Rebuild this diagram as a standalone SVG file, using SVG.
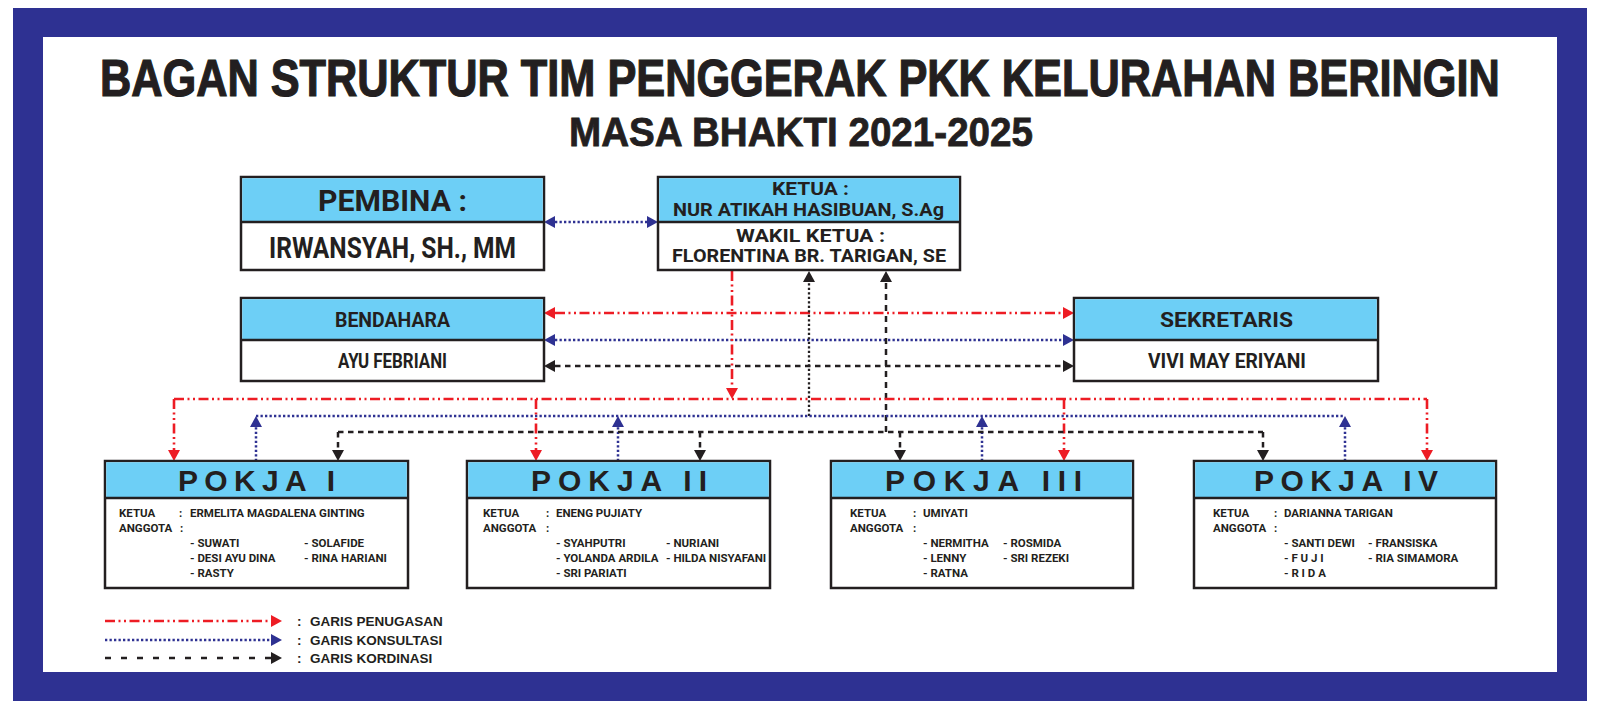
<svg xmlns="http://www.w3.org/2000/svg" width="1600" height="711" viewBox="0 0 1600 711">
<style>
.box{fill:#ffffff;stroke:#231f20;stroke-width:2.5}
.hdr{fill:#6dcff6}
.div{stroke:#231f20;stroke-width:2.5}
.t{font-family:Roboto,"Liberation Sans",sans-serif;font-weight:700;fill:#231f20}
.big{font-family:"Liberation Sans",Arial,sans-serif;font-weight:700;fill:#231f20}
.b{font-size:11.5px}
.red{fill:none;stroke:#ed1c24;stroke-width:2.6;stroke-dasharray:10 3.5 2 3.5 2 3.5}
.blue{fill:none;stroke:#2e3192;stroke-width:2.5;stroke-dasharray:2.3 2.2}
.blk{fill:none;stroke:#231f20;stroke-width:2.5;stroke-dasharray:5.5 4.5}
.blkdot{fill:none;stroke:#231f20;stroke-width:2.3;stroke-dasharray:2.2 2.3}
.blkv{fill:none;stroke:#231f20;stroke-width:2.5;stroke-dasharray:6 5}
.lgblk{fill:none;stroke:#231f20;stroke-width:2.5;stroke-dasharray:6 10}
</style>
<defs>
<marker id="aR" viewBox="0 0 11 12" refX="0" refY="6" markerWidth="11" markerHeight="12" markerUnits="userSpaceOnUse" orient="auto-start-reverse"><path d="M0,0 L11,6 L0,12 Z" fill="#ed1c24"/></marker>
<marker id="aB" viewBox="0 0 11 12" refX="0" refY="6" markerWidth="11" markerHeight="12" markerUnits="userSpaceOnUse" orient="auto-start-reverse"><path d="M0,0 L11,6 L0,12 Z" fill="#2e3192"/></marker>
<marker id="aK" viewBox="0 0 11 12" refX="0" refY="6" markerWidth="11" markerHeight="12" markerUnits="userSpaceOnUse" orient="auto-start-reverse"><path d="M0,0 L11,6 L0,12 Z" fill="#231f20"/></marker>
</defs>
<rect x="0" y="0" width="1600" height="711" fill="#ffffff"/>
<rect x="13" y="8" width="1574" height="693" fill="#2e3192"/>
<rect x="43" y="37" width="1514" height="635" fill="#ffffff"/>

<g id="title">
<text class="big" transform="translate(100,96) scale(0.81,1)" x="0" y="0" font-size="51" textLength="1728" lengthAdjust="spacingAndGlyphs" stroke="#231f20" stroke-width="1.2">BAGAN STRUKTUR TIM PENGGERAK PKK KELURAHAN BERINGIN</text>
<text class="big" x="569" y="146" font-size="41" textLength="464" lengthAdjust="spacingAndGlyphs" stroke="#231f20" stroke-width="0.8">MASA BHAKTI 2021-2025</text>
</g>

<g id="connectors">
<path class="blue" d="M555,222 H647" marker-start="url(#aB)" marker-end="url(#aB)"/>
<path class="red" d="M555,313 H1063" marker-start="url(#aR)" marker-end="url(#aR)"/>
<path class="blue" d="M555,340 H1063" marker-start="url(#aB)" marker-end="url(#aB)"/>
<path class="blk" d="M555,366 H1063" marker-start="url(#aK)" marker-end="url(#aK)"/>
<path class="red" d="M732,271 V388" marker-end="url(#aR)"/>
<path class="blkdot" d="M809,416 V282" marker-end="url(#aK)"/>
<path class="blkv" d="M886,432 V282" marker-end="url(#aK)"/>
<path class="red" d="M174,399 H1427"/>
<path class="red" d="M174,399 V450" marker-end="url(#aR)"/>
<path class="red" d="M536,399 V450" marker-end="url(#aR)"/>
<path class="red" d="M1064,399 V450" marker-end="url(#aR)"/>
<path class="red" d="M1427,399 V450" marker-end="url(#aR)"/>
<path class="blue" d="M256,416 H1345"/>
<path class="blue" d="M256,461 V427" marker-end="url(#aB)"/>
<path class="blue" d="M618,461 V427" marker-end="url(#aB)"/>
<path class="blue" d="M982,461 V427" marker-end="url(#aB)"/>
<path class="blue" d="M1345,461 V427" marker-end="url(#aB)"/>
<path class="blk" d="M338,432 H1263"/>
<path class="blk" d="M338,432 V450" marker-end="url(#aK)"/>
<path class="blk" d="M700,432 V450" marker-end="url(#aK)"/>
<path class="blk" d="M900,432 V450" marker-end="url(#aK)"/>
<path class="blk" d="M1263,432 V450" marker-end="url(#aK)"/>
</g>

<g id="pembina">
<rect class="box" x="241" y="177" width="303" height="93"/>
<rect class="hdr" x="242.25" y="178.25" width="300.5" height="43.75"/>
<line class="div" x1="241" y1="222" x2="544" y2="222"/>
<text class="t" x="318" y="211" font-size="29" textLength="149" lengthAdjust="spacingAndGlyphs">PEMBINA :</text>
<text class="t" x="269" y="258" font-size="29" textLength="247" lengthAdjust="spacingAndGlyphs">IRWANSYAH, SH., MM</text>
</g>

<g id="ketua">
<rect class="box" x="658" y="177" width="302" height="93"/>
<rect class="hdr" x="659.25" y="178.25" width="299.5" height="43.75"/>
<line class="div" x1="658" y1="222" x2="960" y2="222"/>
<text class="t" x="772" y="195" font-size="19" textLength="77" lengthAdjust="spacingAndGlyphs">KETUA :</text>
<text class="t" x="673" y="216" font-size="19" textLength="271" lengthAdjust="spacingAndGlyphs">NUR ATIKAH HASIBUAN, S.Ag</text>
<text class="t" x="736" y="242" font-size="19" textLength="149" lengthAdjust="spacingAndGlyphs">WAKIL KETUA :</text>
<text class="t" x="672" y="262" font-size="19" textLength="274" lengthAdjust="spacingAndGlyphs">FLORENTINA BR. TARIGAN, SE</text>
</g>

<g id="bendahara">
<rect class="box" x="241" y="298" width="303" height="83"/>
<rect class="hdr" x="242.25" y="299.25" width="300.5" height="40.75"/>
<line class="div" x1="241" y1="340" x2="544" y2="340"/>
<text class="t" x="335" y="327" font-size="20.5" textLength="115" lengthAdjust="spacingAndGlyphs">BENDAHARA</text>
<text class="t" x="338" y="368" font-size="20.5" textLength="109" lengthAdjust="spacingAndGlyphs">AYU FEBRIANI</text>
</g>

<g id="sekretaris">
<rect class="box" x="1074" y="298" width="304" height="83"/>
<rect class="hdr" x="1075.25" y="299.25" width="301.5" height="40.75"/>
<line class="div" x1="1074" y1="340" x2="1378" y2="340"/>
<text class="t" x="1160" y="327" font-size="20.5" textLength="133" lengthAdjust="spacingAndGlyphs">SEKRETARIS</text>
<text class="t" x="1148" y="368" font-size="20.5" textLength="158" lengthAdjust="spacingAndGlyphs">VIVI MAY ERIYANI</text>
</g>

<g id="pokja1">
<rect class="box" x="105" y="461" width="303" height="127"/>
<rect class="hdr" x="106.25" y="462.25" width="300.5" height="35.75"/>
<line class="div" x1="105" y1="498" x2="408" y2="498"/>
<text class="big" x="178" y="491" font-size="30" textLength="157" lengthAdjust="spacing">POKJA I</text>
<text class="t b" x="119" y="517">KETUA</text><text class="t b" x="179" y="517">:</text><text class="t b" x="190" y="517">ERMELITA MAGDALENA GINTING</text>
<text class="t b" x="119" y="532">ANGGOTA</text><text class="t b" x="180" y="532">:</text>
<text class="t b" x="190" y="547">- SUWATI</text><text class="t b" x="304" y="547">- SOLAFIDE</text>
<text class="t b" x="190" y="562">- DESI AYU DINA</text><text class="t b" x="304" y="562">- RINA HARIANI</text>
<text class="t b" x="190" y="577">- RASTY</text>
</g>

<g id="pokja2">
<rect class="box" x="467" y="461" width="303" height="127"/>
<rect class="hdr" x="468.25" y="462.25" width="300.5" height="35.75"/>
<line class="div" x1="467" y1="498" x2="770" y2="498"/>
<text class="big" x="531" y="491" font-size="30" textLength="176" lengthAdjust="spacing">POKJA II</text>
<text class="t b" x="483" y="517">KETUA</text><text class="t b" x="546" y="517">:</text><text class="t b" x="556" y="517">ENENG PUJIATY</text>
<text class="t b" x="483" y="532">ANGGOTA</text><text class="t b" x="546" y="532">:</text>
<text class="t b" x="556" y="547">- SYAHPUTRI</text><text class="t b" x="666" y="547">- NURIANI</text>
<text class="t b" x="556" y="562">- YOLANDA ARDILA</text><text class="t b" x="666" y="562">- HILDA NISYAFANI</text>
<text class="t b" x="556" y="577">- SRI PARIATI</text>
</g>

<g id="pokja3">
<rect class="box" x="831" y="461" width="302" height="127"/>
<rect class="hdr" x="832.25" y="462.25" width="299.5" height="35.75"/>
<line class="div" x1="831" y1="498" x2="1133" y2="498"/>
<text class="big" x="885" y="491" font-size="30" textLength="197" lengthAdjust="spacing">POKJA III</text>
<text class="t b" x="850" y="517">KETUA</text><text class="t b" x="913" y="517">:</text><text class="t b" x="923" y="517">UMIYATI</text>
<text class="t b" x="850" y="532">ANGGOTA</text><text class="t b" x="913" y="532">:</text>
<text class="t b" x="923" y="547">- NERMITHA</text><text class="t b" x="1003" y="547">- ROSMIDA</text>
<text class="t b" x="923" y="562">- LENNY</text><text class="t b" x="1003" y="562">- SRI REZEKI</text>
<text class="t b" x="923" y="577">- RATNA</text>
</g>

<g id="pokja4">
<rect class="box" x="1194" y="461" width="302" height="127"/>
<rect class="hdr" x="1195.25" y="462.25" width="299.5" height="35.75"/>
<line class="div" x1="1194" y1="498" x2="1496" y2="498"/>
<text class="big" x="1254" y="491" font-size="30" textLength="184" lengthAdjust="spacing">POKJA IV</text>
<text class="t b" x="1213" y="517">KETUA</text><text class="t b" x="1274" y="517">:</text><text class="t b" x="1284" y="517">DARIANNA TARIGAN</text>
<text class="t b" x="1213" y="532">ANGGOTA</text><text class="t b" x="1274" y="532">:</text>
<text class="t b" x="1284" y="547">- SANTI DEWI</text><text class="t b" x="1368" y="547">- FRANSISKA</text>
<text class="t b" x="1284" y="562">- F U J I</text><text class="t b" x="1368" y="562">- RIA SIMAMORA</text>
<text class="t b" x="1284" y="577">- R I D A</text>
</g>

<g id="legend">
<path class="red" d="M105,621 H271" marker-end="url(#aR)"/>
<path class="blue" d="M105,640 H271" marker-end="url(#aB)"/>
<path class="lgblk" d="M105,658 H271" marker-end="url(#aK)"/>
<text class="big" x="297" y="626" font-size="13.5">:</text><text class="big" x="310" y="626" font-size="13.5">GARIS PENUGASAN</text>
<text class="big" x="297" y="645" font-size="13.5">:</text><text class="big" x="310" y="645" font-size="13.5">GARIS KONSULTASI</text>
<text class="big" x="297" y="663" font-size="13.5">:</text><text class="big" x="310" y="663" font-size="13.5">GARIS KORDINASI</text>
</g>
</svg>
